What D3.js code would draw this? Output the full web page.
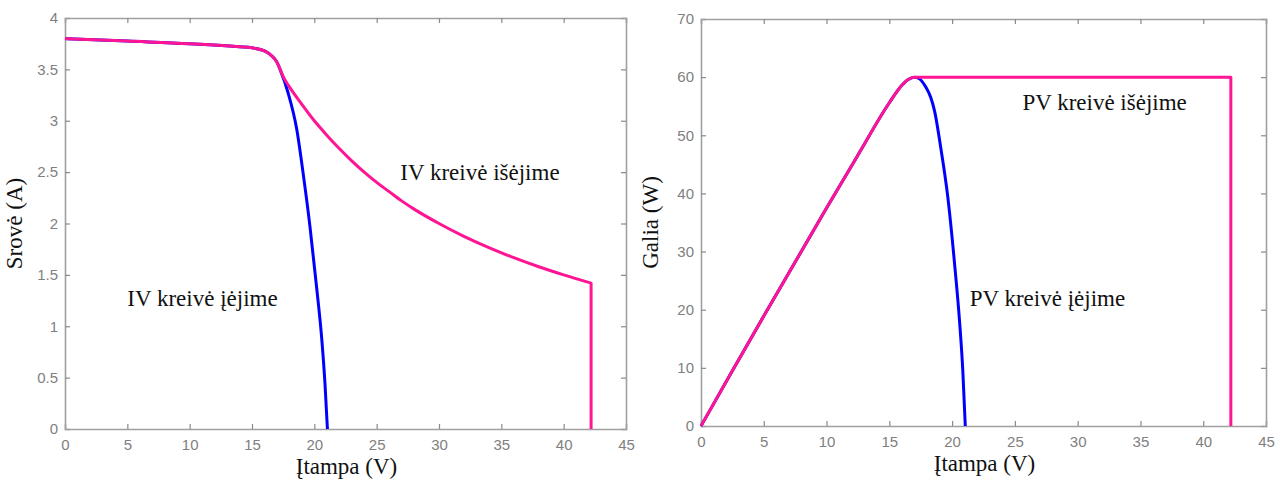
<!DOCTYPE html>
<html>
<head>
<meta charset="utf-8">
<script src="https://cdn.jsdelivr.net/npm/d3@7"></script>
<style>
  body { margin: 0; background: #fff; }
  .tick text { font-family: "Liberation Sans", Arial, sans-serif; font-size: 15px; fill: #808080; }
  .lbl { font-family: "Liberation Serif", "Times New Roman", serif; font-size: 23px; fill: #111; }
</style>
</head>
<body>
<div id="chart"></div>
<script>
// values (voltage in V)
const ivInV = [0, 5, 10, 14, 15, 16, 16.5, 17, 17.25, 17.9, 18.6, 19.1, 19.65, 20.2, 20.6, 20.85, 21.05];
const ivInI = [3.80, 3.775, 3.75, 3.72, 3.71, 3.68, 3.64, 3.57, 3.50, 3.27, 2.91, 2.49, 1.97, 1.36, 0.87, 0.45, 0];

const ivOutV = [0, 5, 10, 14, 15, 16, 16.5, 17, 17.5, 18, 19, 20, 21, 22, 23, 24, 25, 26, 27, 28, 30, 32, 34, 36, 38, 40, 42.2];
const ivOutI = [3.80, 3.775, 3.75, 3.72, 3.71, 3.68, 3.64, 3.57, 3.43, 3.33, 3.16, 3.0, 2.86, 2.73, 2.61, 2.5, 2.4, 2.31, 2.22, 2.14, 2.0, 1.875, 1.765, 1.667, 1.579, 1.5, 1.42];

const pvInV = [0, 2.5, 5, 7.5, 10, 12.5, 15, 16, 16.5, 17, 17.4, 17.9, 18.3, 18.6, 19.1, 19.65, 20.2, 20.6, 20.85, 21.05];
const pvInP = [0, 9.5, 18.9, 28.2, 37.5, 46.6, 55.6, 58.6, 59.6, 60.0, 59.7, 58.3, 56.5, 54.2, 47.8, 39.5, 27.8, 17.8, 9.6, 0];

const pvOutV = [0, 2.5, 5, 7.5, 10, 12.5, 15, 16, 16.5, 17, 42.2];
const pvOutP = [0, 9.5, 18.9, 28.2, 37.5, 46.6, 55.6, 58.6, 59.6, 60.0, 60.0];

const xTicks = [0, 5, 10, 15, 20, 25, 30, 35, 40, 45];
const ivTicks = [0, 0.5, 1, 1.5, 2, 2.5, 3, 3.5, 4];
const pvTicks = [0, 10, 20, 30, 40, 50, 60, 70];

const blue = "#0000ff", pink = "#ff1493";

const svg = d3.select("#chart").append("svg")
    .attr("width", 1287).attr("height", 482);

function zip(xs, ys) { return xs.map((v, i) => [v, ys[i]]); }

function panel(box, yMax, yTicks, yTitle, inLine, outLine, notes) {
    let x = d3.scaleLinear().domain([0, 45]).range([box.left, box.right]);
    let y = d3.scaleLinear().domain([0, yMax]).range([box.bottom, box.top]);
    let g = svg.append("g");

    // ticks on all four sides, pointing in
    g.append("g").attr("transform", "translate(0," + box.bottom + ")")
        .call(d3.axisBottom(x).tickValues(xTicks).tickSize(-5).tickPadding(10).tickFormat(d3.format("")));
    g.append("g").attr("transform", "translate(0," + box.top + ")")
        .call(d3.axisTop(x).tickValues(xTicks).tickSize(-5).tickFormat(""));
    g.append("g").attr("transform", "translate(" + box.left + ",0)")
        .call(d3.axisLeft(y).tickValues(yTicks).tickSize(-5).tickPadding(7).tickFormat(d3.format("")));
    g.append("g").attr("transform", "translate(" + box.right + ",0)")
        .call(d3.axisRight(y).tickValues(yTicks).tickSize(-5).tickFormat(""));
    g.selectAll(".domain").attr("stroke", "#a0a0a0").attr("stroke-width", 1.6);
    g.selectAll(".tick line").attr("stroke", "#8a8a8a").attr("stroke-width", 1.2);
    g.selectAll(".tick").filter(d => d === 0 || d === 45 || d === yMax).select("line").remove();

    let line = d3.line().x(d => x(d[0])).y(d => y(d[1])).curve(d3.curveMonotoneX);

    g.append("path").datum(inLine).attr("d", line)
        .attr("fill", "none").attr("stroke", blue).attr("stroke-width", 3);

    // output curve: smooth part, then straight drop to zero at the last voltage
    let last = outLine[outLine.length - 1];
    let drop = d3.line().x(d => x(d[0])).y(d => y(d[1]));
    g.append("path").attr("d", line(outLine) + drop([last, [last[0], 0]]).replace("M", "L"))
        .attr("fill", "none").attr("stroke", pink).attr("stroke-width", 3)
        .attr("stroke-linejoin", "round");

    notes.forEach(n => {
        g.append("text").attr("class", "lbl")
            .attr("x", x(n.x)).attr("y", y(n.y)).text(n.t);
    });

    g.append("text").attr("class", "lbl")
        .attr("x", (box.left + box.right) / 2 + 1).attr("y", box.bottom + 45)
        .attr("text-anchor", "middle").text("Įtampa (V)");
    g.append("text").attr("class", "lbl")
        .attr("transform", "translate(" + (box.left - 43) + "," + ((box.top + box.bottom) / 2) + ") rotate(-90)")
        .attr("text-anchor", "middle").text(yTitle);
}

panel({ left: 65, right: 626, top: 18, bottom: 429 }, 4, ivTicks, "Srovė (A)",
    zip(ivInV, ivInI), zip(ivOutV, ivOutI),
    [{ x: 26.9, y: 2.42, t: "IV kreivė išėjime" }, { x: 5, y: 1.2, t: "IV kreivė įėjime" }]);

panel({ left: 701, right: 1266, top: 19, bottom: 426 }, 70, pvTicks, "Galia (W)",
    zip(pvInV, pvInP), zip(pvOutV, pvOutP),
    [{ x: 25.6, y: 54.3, t: "PV kreivė išėjime" }, { x: 21.4, y: 20.6, t: "PV kreivė įėjime" }]);
</script>
</body>
</html>
